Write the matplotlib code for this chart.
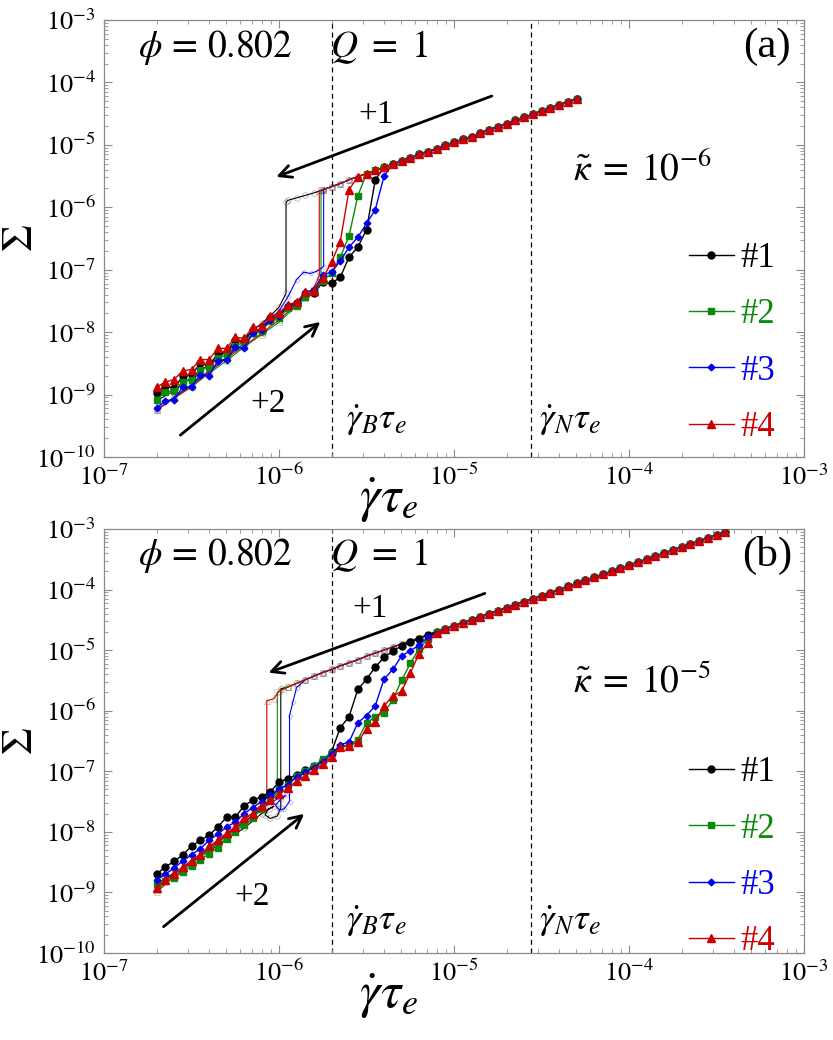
import numpy as np
import matplotlib
matplotlib.use('Agg')
import matplotlib.pyplot as plt
from matplotlib.ticker import LogLocator, NullFormatter, FuncFormatter

plt.rcParams['font.family'] = ['Liberation Serif', 'DejaVu Serif']
plt.rcParams['mathtext.fontset'] = 'stix'

# ---------------- data (log10 values) ----------------
RUNS = ['#1', '#2', '#3', '#4']
COLORS = ['#000000', '#0a8a0a', '#0000ee', '#cc0000']
MARKERS = ['o', 's', 'D', '^']
MSIZE = [5.0, 4.6, 3.4, 5.6]

GAMMA_B = 2.0e-6
GAMMA_N = 2.75e-5

# panel (a): kappa = 1e-6
TOP_LOGX = [-6.70, -6.65, -6.60, -6.55, -6.50, -6.45, -6.40, -6.35, -6.30, -6.25,
            -6.20, -6.15, -6.10, -6.05, -6.00, -5.95, -5.90, -5.85, -5.80, -5.75,
            -5.70, -5.65, -5.60, -5.55, -5.50, -5.45, -5.40, -5.35, -5.30, -5.25,
            -5.20, -5.15, -5.10, -5.05, -5.00, -4.95, -4.90, -4.85, -4.80, -4.75,
            -4.70, -4.65, -4.60, -4.55, -4.50, -4.45, -4.40, -4.35, -4.30]
TOP_UPPER_START = 14   # upper branch values start at log10 rate = -6.00
TOP_UPPER = [-5.93, -5.89, -5.85, -5.81, -5.77, -5.72, -5.67, -5.62, -5.56, -5.51,
             -5.46, -5.41, -5.36, -5.31, -5.26, -5.21, -5.15, -5.11, -5.06, -5.01,
             -4.96, -4.91, -4.87, -4.81, -4.76, -4.71, -4.66, -4.61, -4.56, -4.51,
             -4.46, -4.41, -4.36, -4.31, -4.26]
TOP_FWD_1 = [-8.98, -8.86, -8.90, -8.70, -8.68, -8.50, -8.54, -8.34, -8.32, -8.12,
             -8.16, -7.96, -7.98, -7.78, -7.74, -7.60, -7.54, -7.40, -7.38, -7.20,
             -7.22, -7.12, -6.80, -6.64, -6.36, -5.56]
TOP_FWD_2 = [-9.08, -8.96, -8.94, -8.80, -8.76, -8.60, -8.56, -8.42, -8.36, -8.22,
             -8.16, -8.02, -7.98, -7.82, -7.78, -7.62, -7.58, -7.44, -7.34, -7.18,
             -7.06, -6.80, -6.46, -5.82]
TOP_FWD_3 = [-9.22, -9.10, -9.08, -8.88, -8.88, -8.68, -8.70, -8.46, -8.44, -8.24,
             -8.26, -8.02, -7.96, -7.80, -7.74, -7.56, -7.54, -7.36, -7.32, -7.08,
             -7.04, -6.86, -6.64, -6.48, -6.26, -6.04, -5.50]
TOP_FWD_4 = [-8.88, -8.80, -8.76, -8.62, -8.60, -8.44, -8.44, -8.26, -8.26, -8.08,
             -8.10, -7.92, -7.90, -7.74, -7.70, -7.56, -7.52, -7.36, -7.34, -7.14,
             -6.88, -6.55, -5.72]
TOP_BK_FROM = [-5.95, -5.75, -5.75, -5.75]
TOP_BK_X_1 = [-5.96, -5.96, -6.00, -6.05, -6.10, -6.20, -6.30, -6.40, -6.50, -6.60, -6.70]
TOP_BK_Y_1 = [-5.92, -7.38, -7.60, -7.74, -7.86, -8.10, -8.30, -8.52, -8.72, -8.94, -9.10]
TOP_BK_X_2 = [-5.76, -5.76, -5.80, -5.85, -5.90, -6.00, -6.10, -6.20, -6.30, -6.40, -6.50, -6.60, -6.70]
TOP_BK_Y_2 = [-5.73, -7.16, -7.32, -7.46, -7.58, -7.84, -8.04, -8.24, -8.46, -8.66, -8.88, -9.06, -9.24]
TOP_BK_X_3 = [-5.745, -5.745, -5.78, -5.82, -5.86, -5.90, -5.95, -6.00, -6.10, -6.20, -6.30,
              -6.40, -6.50, -6.60, -6.70]
TOP_BK_Y_3 = [-5.73, -6.95, -7.02, -7.06, -7.04, -7.16, -7.44, -7.66, -7.92, -8.18, -8.40,
              -8.62, -8.84, -9.04, -9.26]
TOP_BK_X_4 = [-5.77, -5.77, -5.80, -5.85, -5.90, -6.00, -6.10, -6.20, -6.30, -6.40, -6.50, -6.60, -6.70]
TOP_BK_Y_4 = [-5.74, -7.10, -7.28, -7.42, -7.56, -7.80, -8.02, -8.22, -8.42, -8.64, -8.86, -9.06, -9.24]

# panel (b): kappa = 1e-5
BOT_LOGX = [-6.70, -6.65, -6.60, -6.55, -6.50, -6.45, -6.40, -6.35, -6.30, -6.25,
            -6.20, -6.15, -6.10, -6.05, -6.00, -5.95, -5.90, -5.85, -5.80, -5.75,
            -5.70, -5.65, -5.60, -5.55, -5.50, -5.45, -5.40, -5.35, -5.30, -5.25,
            -5.20, -5.15, -5.10, -5.05, -5.00, -4.95, -4.90, -4.85, -4.80, -4.75,
            -4.70, -4.65, -4.60, -4.55, -4.50, -4.45, -4.40, -4.35, -4.30, -4.25,
            -4.20, -4.15, -4.10, -4.05, -4.00, -3.95, -3.90, -3.85, -3.80, -3.75,
            -3.70, -3.65, -3.60, -3.55, -3.50, -3.45]
BOT_UPPER_START = 12   # upper branch values start at log10 rate = -6.10
BOT_UPPER = [-5.84, -5.76, -5.68, -5.61, -5.55, -5.49, -5.43, -5.37, -5.32, -5.26,
             -5.21, -5.16, -5.10, -5.05, -5.00, -4.95, -4.90, -4.85, -4.80, -4.75,
             -4.70, -4.65, -4.60, -4.55, -4.50, -4.45, -4.40, -4.35, -4.30, -4.25,
             -4.20, -4.15, -4.10, -4.05, -4.00, -3.95, -3.90, -3.85, -3.80, -3.75,
             -3.70, -3.65, -3.60, -3.55, -3.50, -3.45, -3.40, -3.35, -3.30, -3.25,
             -3.20, -3.15, -3.10, -3.05]
BOT_FWD_1 = [-8.70, -8.58, -8.49, -8.38, -8.24, -8.14, -8.06, -7.92, -7.76, -7.76,
             -7.57, -7.48, -7.42, -7.34, -7.18, -7.12, -7.06, -6.98, -6.92, -6.82,
             -6.68, -6.28, -6.10, -5.65, -5.48, -5.28, -5.12, -5.02, -4.93, -4.87,
             -4.81, -4.75, -4.70]
BOT_FWD_2 = [-8.86, -8.82, -8.76, -8.66, -8.56, -8.46, -8.36, -8.26, -8.12, -8.00,
             -7.88, -7.78, -7.62, -7.46, -7.30, -7.22, -7.08, -7.00, -6.92, -6.80,
             -6.70, -6.60, -6.56, -6.48, -6.20, -6.10, -6.04, -5.82, -5.50, -5.22,
             -4.98, -4.82, -4.70]
BOT_FWD_3 = [-8.80, -8.70, -8.60, -8.48, -8.38, -8.28, -8.14, -8.04, -7.92, -7.84,
             -7.70, -7.60, -7.50, -7.40, -7.30, -7.22, -7.10, -7.02, -6.94, -6.84,
             -6.72, -6.56, -6.52, -6.20, -6.08, -5.92, -5.48, -5.32, -5.10, -5.01,
             -4.92, -4.79, -4.71]
BOT_FWD_4 = [-8.92, -8.80, -8.70, -8.58, -8.48, -8.38, -8.24, -8.14, -8.02, -7.92,
             -7.78, -7.70, -7.58, -7.48, -7.38, -7.28, -7.16, -7.08, -6.98, -6.88,
             -6.76, -6.60, -6.58, -6.52, -6.30, -6.18, -5.92, -5.76, -5.68, -5.38,
             -5.06, -4.89, -4.71]
BOT_BK_FROM = [-5.95, -5.95, -5.85, -6.00]
BOT_BK_X_1 = [-5.99, -5.99, -6.01, -6.05, -6.08, -6.06, -6.03, -6.10, -6.20, -6.30, -6.40, -6.50, -6.60, -6.70]
BOT_BK_Y_1 = [-5.64, -7.60, -7.74, -7.78, -7.72, -7.62, -7.58, -7.70, -7.94, -8.12, -8.32, -8.50, -8.68, -8.86]
BOT_BK_X_2 = [-5.98, -6.01, -6.01, -6.05, -6.10, -6.20, -6.30, -6.40, -6.50, -6.60, -6.70]
BOT_BK_Y_2 = [-5.65, -5.70, -7.36, -7.46, -7.60, -7.86, -8.08, -8.30, -8.52, -8.74, -8.96]
BOT_BK_X_3 = [-5.90, -5.92, -5.94, -5.94, -5.97, -6.00, -6.02, -5.99, -5.96, -6.00, -6.10,
              -6.20, -6.30, -6.40, -6.50, -6.60, -6.70]
BOT_BK_Y_3 = [-5.62, -5.85, -6.08, -7.50, -7.62, -7.64, -7.56, -7.46, -7.40, -7.44, -7.62,
              -7.84, -8.04, -8.26, -8.48, -8.70, -8.92]
BOT_BK_X_4 = [-6.03, -6.07, -6.07, -6.10, -6.15, -6.20, -6.30, -6.40, -6.50, -6.60, -6.70]
BOT_BK_Y_4 = [-5.80, -5.84, -7.42, -7.55, -7.68, -7.82, -8.06, -8.28, -8.50, -8.74, -9.00]

PANELS = [
    dict(grid=TOP_LOGX, ustart=TOP_UPPER_START, upper=TOP_UPPER,
         fwd=[TOP_FWD_1, TOP_FWD_2, TOP_FWD_3, TOP_FWD_4],
         bkfrom=TOP_BK_FROM,
         bkx=[TOP_BK_X_1, TOP_BK_X_2, TOP_BK_X_3, TOP_BK_X_4],
         bky=[TOP_BK_Y_1, TOP_BK_Y_2, TOP_BK_Y_3, TOP_BK_Y_4],
         tag='(a)', kappa=r'$\tilde{\kappa}\;=\;10^{-6}$'),
    dict(grid=BOT_LOGX, ustart=BOT_UPPER_START, upper=BOT_UPPER,
         fwd=[BOT_FWD_1, BOT_FWD_2, BOT_FWD_3, BOT_FWD_4],
         bkfrom=BOT_BK_FROM,
         bkx=[BOT_BK_X_1, BOT_BK_X_2, BOT_BK_X_3, BOT_BK_X_4],
         bky=[BOT_BK_Y_1, BOT_BK_Y_2, BOT_BK_Y_3, BOT_BK_Y_4],
         tag='(b)', kappa=r'$\tilde{\kappa}\;=\;10^{-5}$'),
]


def forward_curve(p, lower):
    grid = p['grid']
    n = len(lower)
    ys = list(lower) + list(p['upper'][n - p['ustart']:])
    xs = grid[:len(ys)]
    return np.power(10.0, xs), np.power(10.0, ys)


def backward_curve(p, i):
    grid = p['grid']
    k = int(np.argmin(np.abs(np.array(grid) - p['bkfrom'][i])))
    up_x = grid[k:][::-1]
    up_y = p['upper'][k - p['ustart']:][::-1]
    xs = list(up_x) + list(p['bkx'][i])
    ys = list(up_y) + list(p['bky'][i])
    return np.power(10.0, xs), np.power(10.0, ys)


def pow_label(v, pos):
    e = int(round(np.log10(v)))
    return r'$10^{%d}$' % e


fig = plt.figure(figsize=(8.33, 10.4), dpi=100)
ax_top = fig.add_axes([0.1249, 0.5606, 0.8403, 0.4202])
ax_bot = fig.add_axes([0.1249, 0.0837, 0.8403, 0.4077])

layout = [
    dict(ax=ax_top, arrow1=((0.554, 0.826), (0.246, 0.641)), lab1=(0.389, 0.783),
         arrow2=((0.109, 0.050), (0.309, 0.309)), lab2=(0.235, 0.122),
         kappa=(0.670, 0.657), gy=0.085, leg=(0.835, 0.030)),
    dict(ax=ax_bot, arrow1=((0.544, 0.848), (0.235, 0.661)), lab1=(0.380, 0.812),
         arrow2=((0.085, 0.062), (0.286, 0.328)), lab2=(0.211, 0.133),
         kappa=(0.670, 0.640), gy=0.075, leg=(0.835, -0.012)),
]

for p, L in zip(PANELS, layout):
    ax = L['ax']
    ax.set_xscale('log')
    ax.set_yscale('log')
    ax.set_xlim(1e-7, 1e-3)
    ax.set_ylim(1e-10, 1e-3)

    # backward sweeps (thin lines, faint open symbols)
    for i in range(4):
        x, y = backward_curve(p, i)
        ax.plot(x, y, '-', color=COLORS[i], lw=0.8, zorder=2)
        ax.plot(x, y, ls='none', marker=MARKERS[i], ms=MSIZE[i] * 0.8, mfc='none',
                mec=COLORS[i], mew=0.5, alpha=0.35, zorder=2)

    handles = []
    for i in range(4):
        x, y = forward_curve(p, p['fwd'][i])
        h, = ax.plot(x, y, '-', color=COLORS[i], lw=1.0, marker=MARKERS[i],
                     ms=MSIZE[i], mfc=COLORS[i], mec=COLORS[i], zorder=3 + i)
        handles.append(h)

    ax.axvline(GAMMA_B, color='black', lw=0.9, ls=(0, (4, 3)), zorder=1)
    ax.axvline(GAMMA_N, color='black', lw=0.9, ls=(0, (4, 3)), zorder=1)

    ax.tick_params(which='both', direction='in', top=True, right=True,
                   color='#8a8a8a', labelsize=19)
    ax.tick_params(which='major', length=6, width=0.8, pad=6)
    ax.tick_params(which='minor', length=3, width=0.6)
    ax.tick_params(axis='x', which='major', pad=5)
    ax.xaxis.set_major_locator(LogLocator(base=10, numticks=20))
    ax.yaxis.set_major_locator(LogLocator(base=10, numticks=20))
    ax.xaxis.set_minor_locator(LogLocator(base=10, subs=np.arange(2, 10), numticks=100))
    ax.yaxis.set_minor_locator(LogLocator(base=10, subs=np.arange(2, 10), numticks=100))
    ax.xaxis.set_major_formatter(FuncFormatter(pow_label))
    ax.yaxis.set_major_formatter(FuncFormatter(pow_label))
    ax.xaxis.set_minor_formatter(NullFormatter())
    ax.yaxis.set_minor_formatter(NullFormatter())
    for s in ax.spines.values():
        s.set_color('#8a8a8a')
        s.set_linewidth(0.9)

    ax.set_xlabel(r'$\dot{\gamma}\tau_e$', fontsize=37)
    ax.xaxis.set_label_coords(0.406, -0.043)
    ax.set_ylabel(r'$\Sigma$', fontsize=31, va='center')
    ax.yaxis.set_label_coords(-0.117, 0.5)

    tr = ax.transAxes
    ax.text(0.049, 0.938, r'$\phi\,=\,0.802$', transform=tr, fontsize=27, ha='left', va='center')
    ax.text(0.323, 0.938, r'$Q\ =\ 1$', transform=tr, fontsize=27, ha='left', va='center')
    ax.text(0.947, 0.938, p['tag'], transform=tr, fontsize=31, ha='center', va='center')
    ax.text(L['kappa'][0], L['kappa'][1], p['kappa'], transform=tr, fontsize=27,
            ha='left', va='center')
    ax.text(0.345, L['gy'], r'$\dot{\gamma}_B\tau_e$', transform=tr, fontsize=26.5,
            ha='left', va='center')
    ax.text(0.622, L['gy'], r'$\dot{\gamma}_N\tau_e$', transform=tr, fontsize=26.5,
            ha='left', va='center')

    arrow_kw = dict(arrowstyle='->', color='black', lw=2.0,
                    mutation_scale=22, shrinkA=0, shrinkB=0)
    (s1, e1) = L['arrow1']
    ax.annotate('', xy=e1, xytext=s1, xycoords='axes fraction',
                textcoords='axes fraction', arrowprops=arrow_kw)
    (s2, e2) = L['arrow2']
    ax.annotate('', xy=e2, xytext=s2, xycoords='axes fraction',
                textcoords='axes fraction', arrowprops=arrow_kw)
    ax.text(L['lab1'][0], L['lab1'][1], '+1', transform=tr, fontsize=24,
            ha='center', va='center')
    ax.text(L['lab2'][0], L['lab2'][1], '+2', transform=tr, fontsize=24,
            ha='center', va='center')

    ax.legend(handles, RUNS, loc='lower left', bbox_to_anchor=L['leg'],
              frameon=False, fontsize=25, labelcolor=COLORS, handlelength=1.3,
              handletextpad=0.2, labelspacing=0.67, borderpad=0, borderaxespad=0,
              numpoints=1)

fig.savefig('out.png', dpi=100)
